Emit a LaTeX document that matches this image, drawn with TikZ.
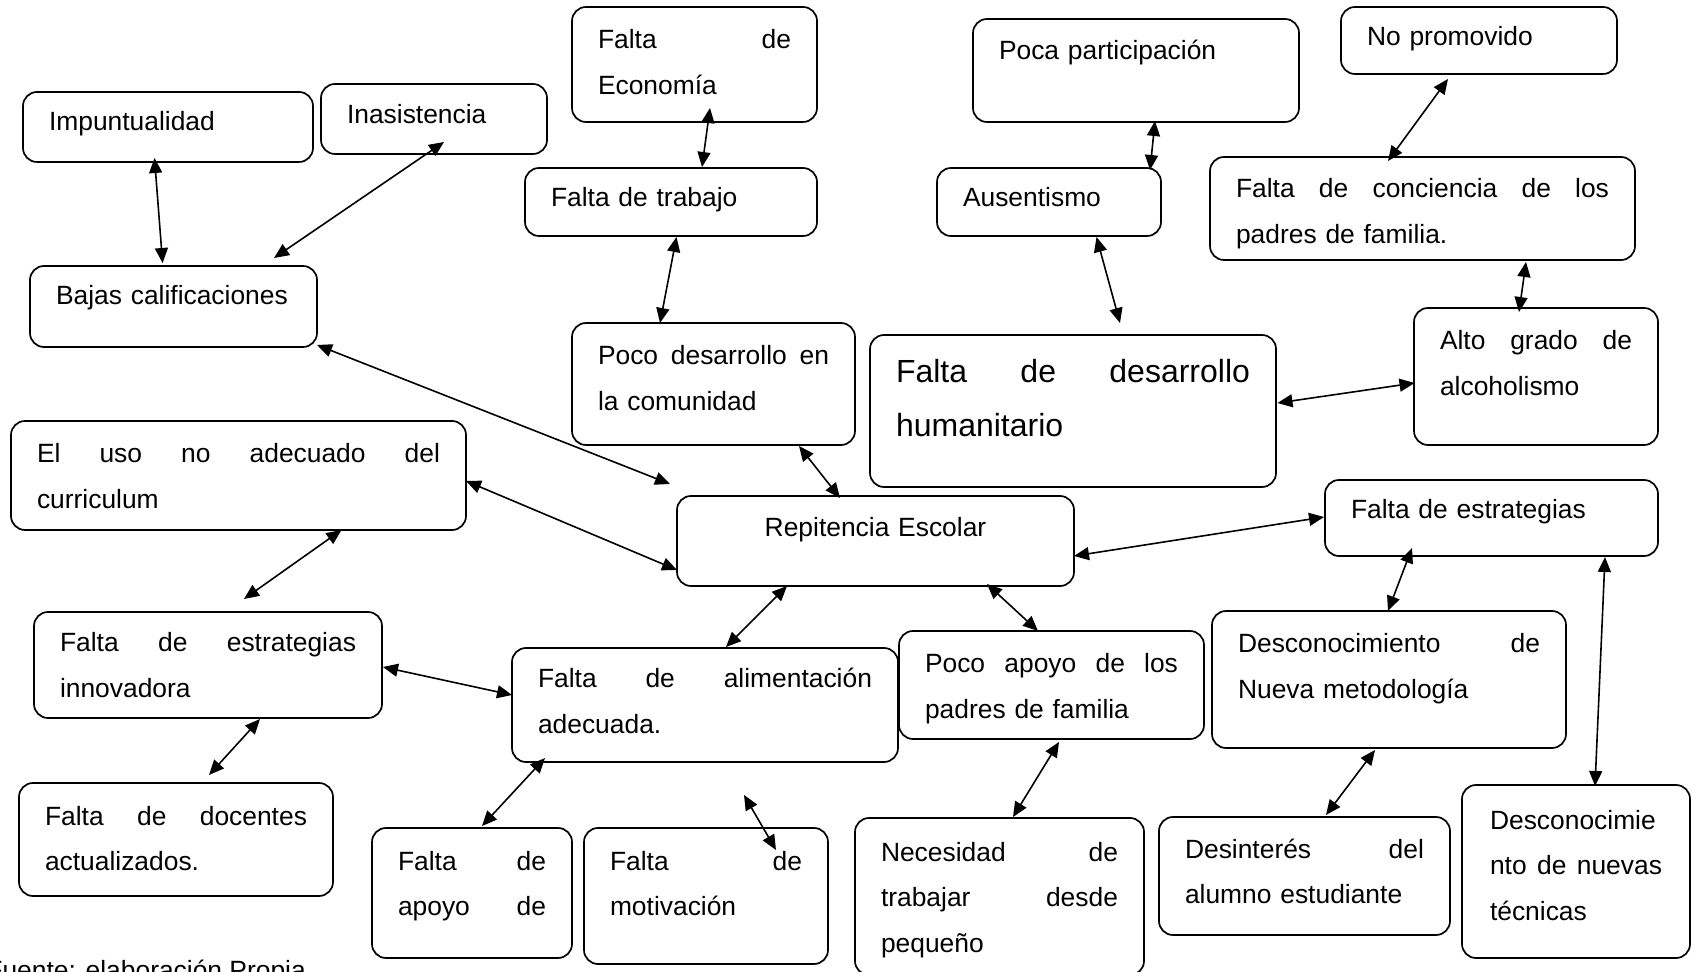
\documentclass[tikz,border=0pt]{standalone}
\usepackage{fontspec}
\setmainfont{Liberation Sans}
\usetikzlibrary{arrows.meta}
\newcommand{\nfnt}{\fontsize{13.2}{22.75}\selectfont\hyphenpenalty=10000\exhyphenpenalty=10000}
\newcommand{\bfnt}{\fontsize{16}{27}\selectfont\hyphenpenalty=10000\exhyphenpenalty=10000}
\begin{document}
\begin{tikzpicture}[x=0.5pt,y=-0.5pt,
  box/.style={draw, line width=0.85pt, rounded corners=7pt, anchor=north west,
    inner xsep=13pt, inner ysep=0pt, outer sep=0pt, align=left, font=\nfnt},
  arr/.style={line width=0.8pt,
    {Triangle[length=7.5pt,width=6.5pt]}-{Triangle[length=7.5pt,width=6.5pt]}}]
\useasboundingbox (0,0) rectangle (1692,972);
\fill[white] (0,0) rectangle (1692,972);
\clip (0,0) rectangle (1692,972);

% boxes
\node[box, text width=96.5pt, text height=21pt, text depth=36.5pt] (econ) at (572,7) {Falta\hfill de\\Economía};
\node[box, text width=119pt, text height=19.5pt, text depth=15.5pt] (imp) at (23,92) {Impuntualidad};
\node[box, text width=87pt, text height=20pt, text depth=15pt] (inas) at (321,84) {Inasistencia};
\node[box, text width=120pt, text height=19.5pt, text depth=14.5pt] (trab) at (525,168) {Falta de trabajo};
\node[box, text width=117.5pt, text height=19.5pt, text depth=21pt] (bajas) at (30,266) {Bajas calificaciones};
\node[box, text width=115.5pt, text height=21pt, text depth=40pt] (pocodes) at (572,323) {Poco\hfill desarrollo\hfill en\\la comunidad};
\node[box, text width=201.5pt, text height=21pt, text depth=33.5pt] (uso) at (11,421) {El\hfill uso\hfill no\hfill adecuado\hfill del\\curriculum};
\node[box, align=center, text width=172.5pt, text height=20.5pt, text depth=24.5pt] (rep) at (677,496) {Repitencia Escolar};
\node[box, text width=137pt, text height=20.5pt, text depth=31pt] (poca) at (973,19) {Poca participación};
\node[box, text width=112pt, text height=19.5pt, text depth=14pt] (nopro) at (1341,7) {No promovido};
\node[box, text width=86pt, text height=19.5pt, text depth=14.5pt] (ausent) at (937,168) {Ausentismo};
\node[box, text width=186.5pt, text height=20.5pt, text depth=31pt] (concien) at (1210,157) {Falta\hfill de\hfill conciencia\hfill de\hfill los\\padres de familia.};
\node[box, font=\bfnt, text width=177pt, text height=24pt, text depth=52pt] (humano) at (870,335) {Falta\hfill de\hfill desarrollo\\humanitario};
\node[box, text width=96pt, text height=21pt, text depth=47.5pt] (alto) at (1414,308) {Alto\hfill grado\hfill de\\alcoholismo};
\node[box, text width=140.5pt, text height=19.5pt, text depth=18.5pt] (estr) at (1325,480) {Falta de estrategias};
\node[box, text width=148pt, text height=20pt, text depth=33pt] (innov) at (34,612) {Falta\hfill de\hfill estrategias\\innovadora};
\node[box, text width=167pt, text height=20pt, text depth=37pt] (alim) at (512,648) {Falta\hfill de\hfill alimentación\\adecuada.};
\node[box, text width=126.5pt, text height=21pt, text depth=33pt] (pocoapoyo) at (899,631) {Poco\hfill apoyo\hfill de\hfill los\\padres de familia};
\node[box, text width=151pt, text height=21pt, text depth=47.5pt] (descmet) at (1212,611) {Desconocimiento\hfill de\\Nueva metodología};
\node[box, text width=131pt, text height=21pt, text depth=35.5pt] (doc) at (19,783) {Falta\hfill de\hfill docentes\\actualizados.};
\node[box, text width=74pt, text height=21pt, text depth=44pt] (apoyo) at (372,828) {Falta\hfill de\\apoyo\hfill de};
\node[box, text width=96pt, text height=21pt, text depth=47pt] (motiv) at (584,828) {Falta\hfill de\\motivación};
\node[box, text width=118.5pt, text height=21.5pt, text depth=57pt] (neces) at (855,818) {Necesidad\hfill de\\trabajar\hfill desde\\pequeño};
\node[box, text width=119.5pt, text height=20.5pt, text depth=38.5pt] (desint) at (1159,817) {Desinterés\hfill del\\alumno estudiante};
\node[box, inner xsep=14pt, text width=86pt, text height=22pt, text depth=64.5pt] (desctec) at (1462,785) {Desconocimie\\nto\hfill de\hfill nuevas\\técnicas};

% footer
\node[anchor=base west, inner sep=0pt, font=\nfnt] (fuente) at (-14,979) {Fuente: elaboración Propia};

% connectors
\draw[arr] ([shift={(131.5,66)}]imp.north west) -- ([shift={(132.6,-3)}]bajas.north west);
\draw[arr] ([shift={(123,58)}]inas.north west) -- ([shift={(244,-8)}]bajas.north west);
\draw[arr] ([shift={(138,101)}]econ.north west) -- ([shift={(177,-1)}]trab.north west);
\draw[arr] ([shift={(151.5,69)}]trab.north west) -- ([shift={(88,0)}]pocodes.north west);
\draw[arr] ([shift={(287,79)}]bajas.north west) -- ([shift={(-7,-12)}]rep.north west);
\draw[arr] ([shift={(227,123)}]pocodes.north west) -- ([shift={(163,2)}]rep.north west);
\draw[arr] ([shift={(455,60)}]uso.north west) -- ([shift={(0,74)}]rep.north west);
\draw[arr] ([shift={(330.5,109)}]uso.north west) -- ([shift={(210,-13)}]innov.north west);
\draw[arr] ([shift={(110,90)}]rep.north west) -- ([shift={(214,-1)}]alim.north west);
\draw[arr] ([shift={(349,55)}]innov.north west) -- ([shift={(0,47)}]alim.north west);
\draw[arr] ([shift={(226,107)}]innov.north west) -- ([shift={(190,-8)}]doc.north west);
\draw[arr] ([shift={(33,110)}]alim.north west) -- ([shift={(110,-2)}]apoyo.north west);
\draw[arr] ([shift={(160,-33)}]motiv.north west) -- ([shift={(192,22)}]motiv.north west);
\draw[arr] ([shift={(310,88)}]rep.north west) -- ([shift={(139,0)}]pocoapoyo.north west);
\draw[arr] ([shift={(397,60)}]rep.north west) -- ([shift={(-1,37)}]estr.north west);
\draw[arr] ([shift={(87,68)}]estr.north west) -- ([shift={(176,0)}]descmet.north west);
\draw[arr] ([shift={(280,77)}]estr.north west) -- ([shift={(133,1)}]desctec.north west);
\draw[arr] ([shift={(160,111)}]pocoapoyo.north west) -- ([shift={(158,-1)}]neces.north west);
\draw[arr] ([shift={(163,139)}]descmet.north west) -- ([shift={(167,-2)}]desint.north west);
\draw[arr] ([shift={(159.5,69)}]ausent.north west) -- ([shift={(250,-12)}]humano.north west);
\draw[arr] ([shift={(182,102)}]poca.north west) -- ([shift={(213,2)}]ausent.north west);
\draw[arr] ([shift={(107,72)}]nopro.north west) -- ([shift={(178,4)}]concien.north west);
\draw[arr] ([shift={(316,105)}]concien.north west) -- ([shift={(105,4)}]alto.north west);
\draw[arr] ([shift={(407.5,68)}]humano.north west) -- ([shift={(0.5,75)}]alto.north west);
\end{tikzpicture}
\end{document}
